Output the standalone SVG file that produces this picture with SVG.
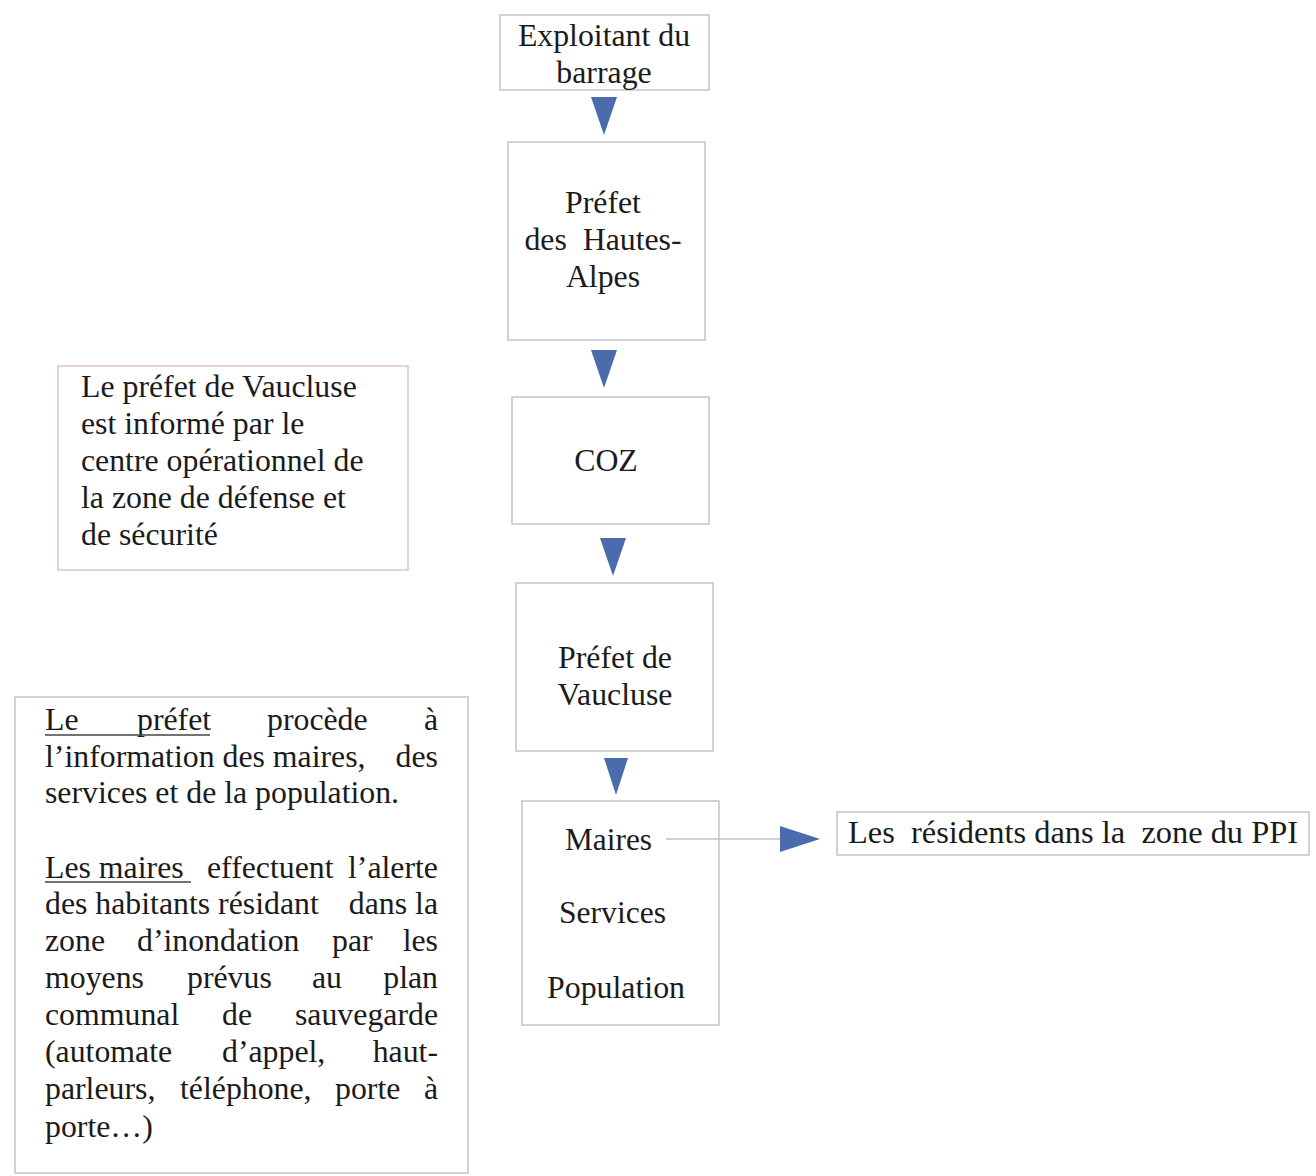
<svg xmlns="http://www.w3.org/2000/svg" width="1316" height="1176" viewBox="0 0 1316 1176">
<style>
.box{fill:#fff;stroke:#c4c4c4;stroke-width:1.5}
.pink{stroke:#dcc6c8}
.t{font-family:"Liberation Serif","Times New Roman",serif;font-size:31.8px;fill:#1b1b1b}
.c{text-anchor:middle}
.e{text-anchor:end}
.arr{fill:#4a6cad}
.ul{stroke:#444;stroke-width:1.5}
</style>
<rect width="1316" height="1176" fill="#fff"/>
<g id="exploitant">
<rect class="box" x="500" y="15" width="209" height="75"/>
<text class="t c" x="604" y="46">Exploitant du</text>
<text class="t c" x="604" y="83">barrage</text>
</g>
<g id="prefet-hautes-alpes">
<rect class="box" x="508" y="142" width="197" height="198"/>
<text class="t c" x="603" y="213">Préfet</text>
<text class="t c" x="603" y="250" xml:space="preserve">des  Hautes-</text>
<text class="t c" x="603" y="287">Alpes</text>
</g>
<g id="coz">
<rect class="box" x="512" y="397" width="197" height="127"/>
<text class="t c" x="606" y="471">COZ</text>
</g>
<g id="prefet-vaucluse">
<rect class="box" x="516" y="583" width="197" height="168"/>
<text class="t c" x="615" y="668">Préfet de</text>
<text class="t c" x="615" y="705">Vaucluse</text>
</g>
<g id="maires">
<rect class="box" x="522" y="801" width="197" height="224"/>
<text class="t" x="565" y="850" textLength="87" lengthAdjust="spacingAndGlyphs">Maires</text>
<text class="t" x="559" y="923" textLength="107" lengthAdjust="spacingAndGlyphs">Services</text>
<text class="t" x="547" y="998" textLength="138" lengthAdjust="spacingAndGlyphs">Population</text>
</g>
<g id="residents">
<rect class="box" x="837" y="812" width="472" height="43"/>
<text class="t" x="848" y="843" textLength="450" lengthAdjust="spacingAndGlyphs" xml:space="preserve">Les  résidents dans la  zone du PPI</text>
</g>
<g id="note-vaucluse">
<rect class="box pink" x="58" y="366" width="350" height="204"/>
<text class="t" x="81" y="397">Le préfet de Vaucluse</text>
<text class="t" x="81" y="434">est informé par le</text>
<text class="t" x="81" y="471">centre opérationnel de</text>
<text class="t" x="81" y="508">la zone de défense et</text>
<text class="t" x="81" y="545">de sécurité</text>
</g>
<g id="note-maires">
<rect class="box" x="15" y="697" width="453" height="476"/>
<text class="t" x="45" y="730">Le</text><text class="t" x="137" y="730">préfet</text><text class="t" x="267" y="730">procède</text><text class="t e" x="438" y="730">à</text>
<line class="ul" x1="45" y1="735" x2="210" y2="735"/>
<text class="t" x="45" y="767">l’information des maires,</text><text class="t e" x="438" y="767">des</text>
<text class="t" x="45" y="803">services et de la population.</text>
<text class="t" x="45" y="878">Les maires</text><text class="t" x="207" y="878">effectuent</text><text class="t e" x="438" y="878">l’alerte</text>
<line class="ul" x1="45" y1="882" x2="191" y2="882"/>
<text class="t" x="45" y="914">des habitants résidant</text><text class="t e" x="438" y="914">dans la</text>
<text class="t" x="45" y="951">zone</text><text class="t" x="137" y="951">d’inondation</text><text class="t" x="332" y="951">par</text><text class="t e" x="438" y="951">les</text>
<text class="t" x="45" y="988">moyens</text><text class="t" x="187" y="988">prévus</text><text class="t" x="312" y="988">au</text><text class="t e" x="438" y="988">plan</text>
<text class="t" x="45" y="1025">communal</text><text class="t" x="222" y="1025">de</text><text class="t e" x="438" y="1025">sauvegarde</text>
<text class="t" x="45" y="1062">(automate</text><text class="t" x="222" y="1062">d’appel,</text><text class="t e" x="438" y="1062">haut-</text>
<text class="t" x="45" y="1099">parleurs,</text><text class="t" x="180" y="1099">téléphone,</text><text class="t" x="335" y="1099">porte</text><text class="t e" x="438" y="1099">à</text>
<text class="t" x="45" y="1137">porte…)</text>
</g>
<g id="connectors">
<polygon class="arr" points="591,97 617,97 604,135"/>
<polygon class="arr" points="591,350 617,350 604,388"/>
<polygon class="arr" points="600,538 626,538 613,576"/>
<polygon class="arr" points="604,758 628,758 616,795"/>
<line x1="666" y1="839" x2="782" y2="839" stroke="#b8c2d4" stroke-width="1.5"/>
<polygon class="arr" points="780,826 780,852 820,839"/>
</g>
</svg>
